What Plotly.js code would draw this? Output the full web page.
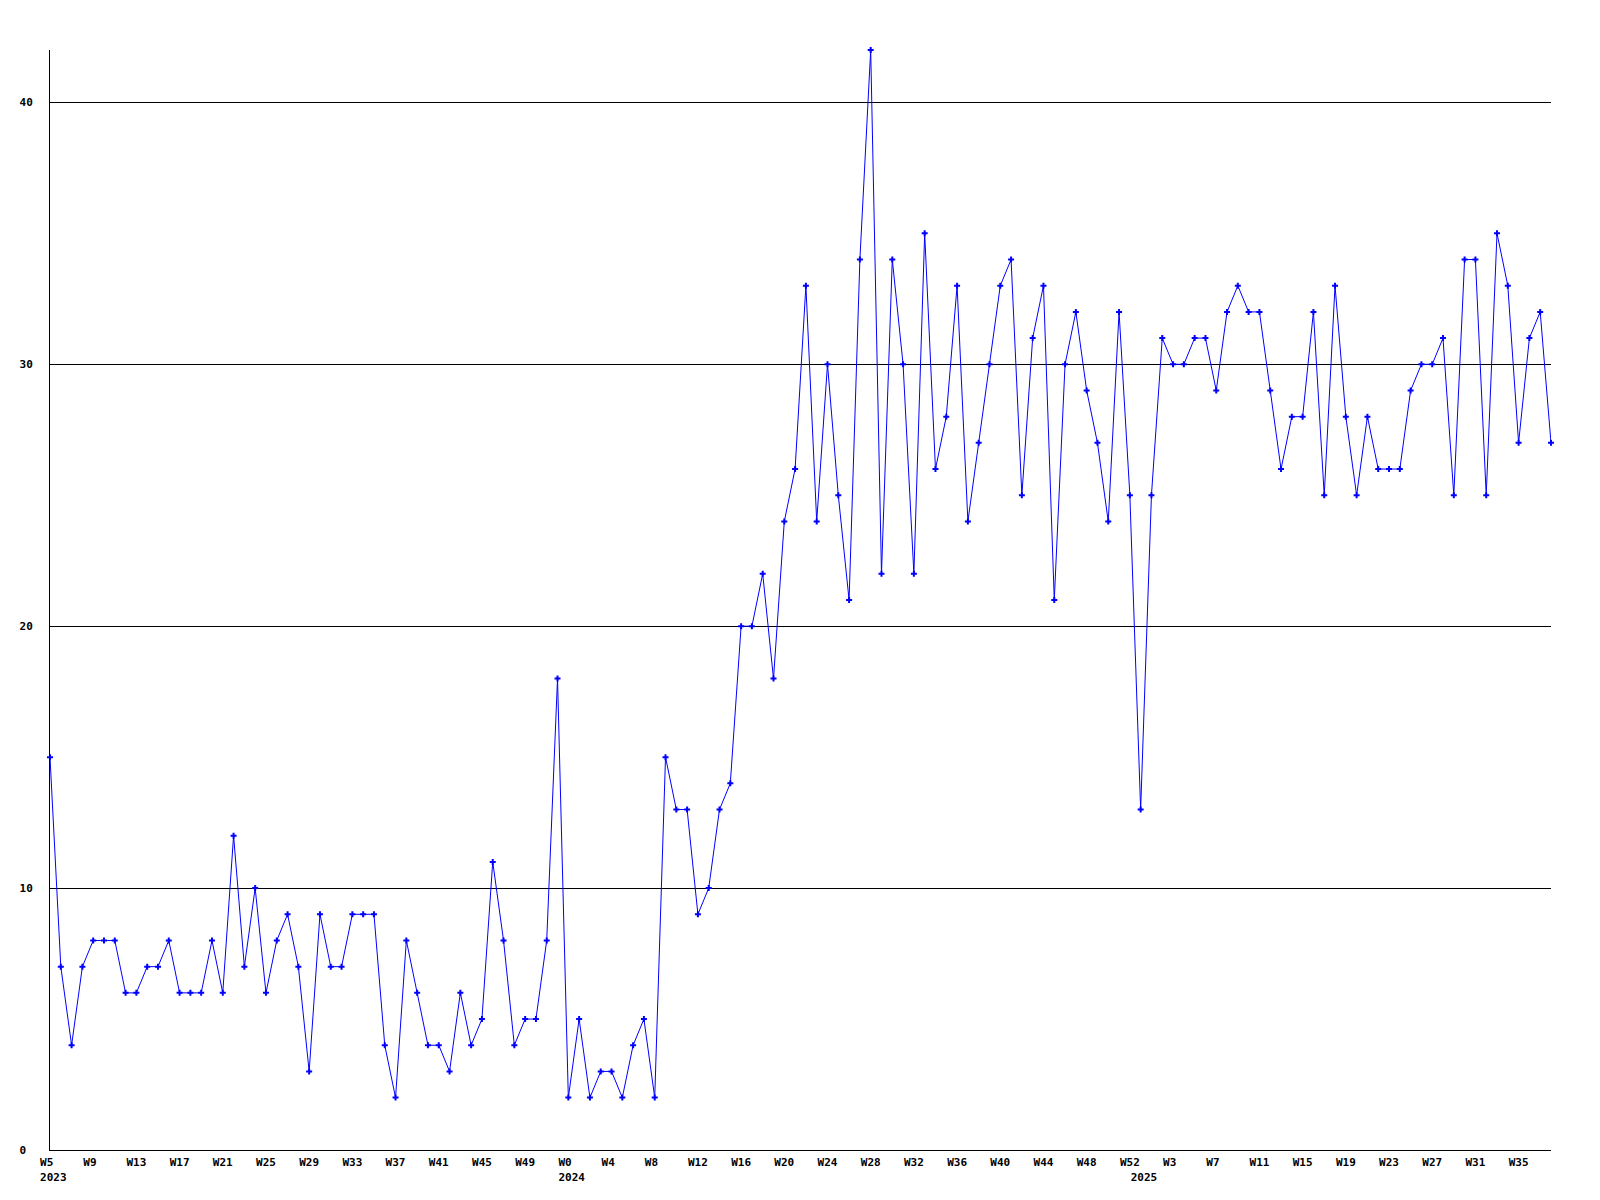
<!DOCTYPE html>
<html>
<head>
<meta charset="utf-8">
<script src="https://cdn.plot.ly/plotly-3.0.1.min.js"></script>
<style>
  html, body { margin: 0; padding: 0; background: #ffffff; }
  #chart { width: 1600px; height: 1200px; }
</style>
</head>
<body>
<div id="chart"></div>
<script>
// Week numbers present in each year (x categories)
const weeks2023 = [5,6,7,8,9,10,11,12,13,14,15,16,17,18,19,20,21,22,23,24,25,26,27,28,29,30,31,32,33,34,35,36,37,38,39,40,41,42,43,44,45,46,47,48,49,50,51,52];
const weeks2024 = [0,1,2,3,4,5,6,7,8,9,10,11,12,13,14,15,16,17,18,19,20,21,22,23,24,25,26,27,28,29,30,31,32,33,34,35,36,37,38,39,40,41,42,43,44,45,46,47,48,49,50,51,52];
const weeks2025 = [0,1,2,3,4,5,6,7,8,9,10,11,12,13,14,15,16,17,18,19,20,21,22,23,24,25,26,27,28,29,30,31,32,33,34,35,36,37,38];

// Weekly values
const values2023 = [15,7,4,7,8,8,8,6,6,7, 7,8,6,6,6,8,6,12,7,10, 6,8,9,7,3,9,7,7,9,9, 9,4,2,8,6,4,4,3,6,4, 5,11,8,4,5,5,8,18];
const values2024 = [2,5,2,3,3,2,4,5,2,15, 13,13,9,10,13,14,20,20,22,18, 24,26,33,24,30,25,21,34,42,22, 34,30,22,35,26,28,33,24,27,30, 33,34,25,31,33,21,30,32,29,27, 24,32,25];
const values2025 = [13,25,31,30,30,31,31,29,32,33, 32,32,29,26,28,28,32,25,33,28, 25,28,26,26,26,29,30,30,31,25, 34,34,25,35,33,27,31,32,27];

// X tick labels: [year, week, text]
const xTickYears = [2023,2023,2023,2023,2023,2023,2023,2023,2023,2023,2023,2023, 2024,2024,2024,2024,2024,2024,2024,2024,2024,2024,2024,2024,2024,2024, 2025, 2025,2025,2025,2025,2025,2025,2025,2025,2025];
const xTickWeeks = [5,9,13,17,21,25,29,33,37,41,45,49, 0,4,8,12,16,20,24,28,32,36,40,44,48,52, 0, 3,7,11,15,19,23,27,31,35];
const xTickText = [
  "W5\u00a0<br>\u00a02023","W9\u00a0","W13","W17","W21","W25","W29","W33","W37","W41","W45","W49",
  "W0\u00a0<br>\u00a02024","W4\u00a0","W8\u00a0","W12","W16","W20","W24","W28","W32","W36","W40","W44","W48","W52",
  "\u00a0<br>\u00a02025",
  "W3\u00a0","W7\u00a0","W11","W15","W19","W23","W27","W31","W35"
];

// Y tick labels
const yTickVals = [0,10,20,30,40];
const yTickText = ["0\u00a0","10","20","30","40"];

const cat = (y, w) => y + "-W" + (w < 10 ? "0" + w : "" + w);
const x = [].concat(
  weeks2023.map(w => cat(2023, w)),
  weeks2024.map(w => cat(2024, w)),
  weeks2025.map(w => cat(2025, w))
);
const y = [].concat(values2023, values2024, values2025);
const tickvals = xTickYears.map((yr, i) => cat(yr, xTickWeeks[i]));

const font = { family: "DejaVu Sans Mono, monospace", size: 11, color: "#000000", weight: "bold" };

const trace = {
  type: "scatter",
  mode: "lines+markers",
  x: x,
  y: y,
  line: { color: "#0000ff", width: 1 },
  marker: { symbol: "cross", size: 5, color: "#0000ff", line: { width: 0 } },
  cliponaxis: false,
  hoverinfo: "skip"
};

const layout = {
  width: 1600,
  height: 1200,
  margin: { l: 50, r: 49, t: 50, b: 50, pad: 0 },
  paper_bgcolor: "#ffffff",
  plot_bgcolor: "#ffffff",
  showlegend: false,
  hovermode: false,
  font: font,
  xaxis: {
    type: "category",
    categoryorder: "array",
    categoryarray: x,
    range: [0, x.length - 1],
    tickmode: "array",
    tickvals: tickvals,
    ticktext: xTickText,
    tickangle: 0,
    ticks: "",
    tickfont: font,
    ticklabelstandoff: 2,
    showgrid: false,
    zeroline: false,
    showline: true,
    linecolor: "#000000",
    linewidth: 1,
    fixedrange: true
  },
  yaxis: {
    range: [0, 42],
    tickmode: "array",
    tickvals: yTickVals,
    ticktext: yTickText,
    ticks: "",
    tickfont: font,
    ticklabelstandoff: 14,
    showgrid: true,
    gridcolor: "#000000",
    gridwidth: 1,
    zeroline: false,
    showline: true,
    linecolor: "#000000",
    linewidth: 1,
    fixedrange: true
  }
};

Plotly.newPlot("chart", [trace], layout, { staticPlot: true, displayModeBar: false });
</script>
</body>
</html>
